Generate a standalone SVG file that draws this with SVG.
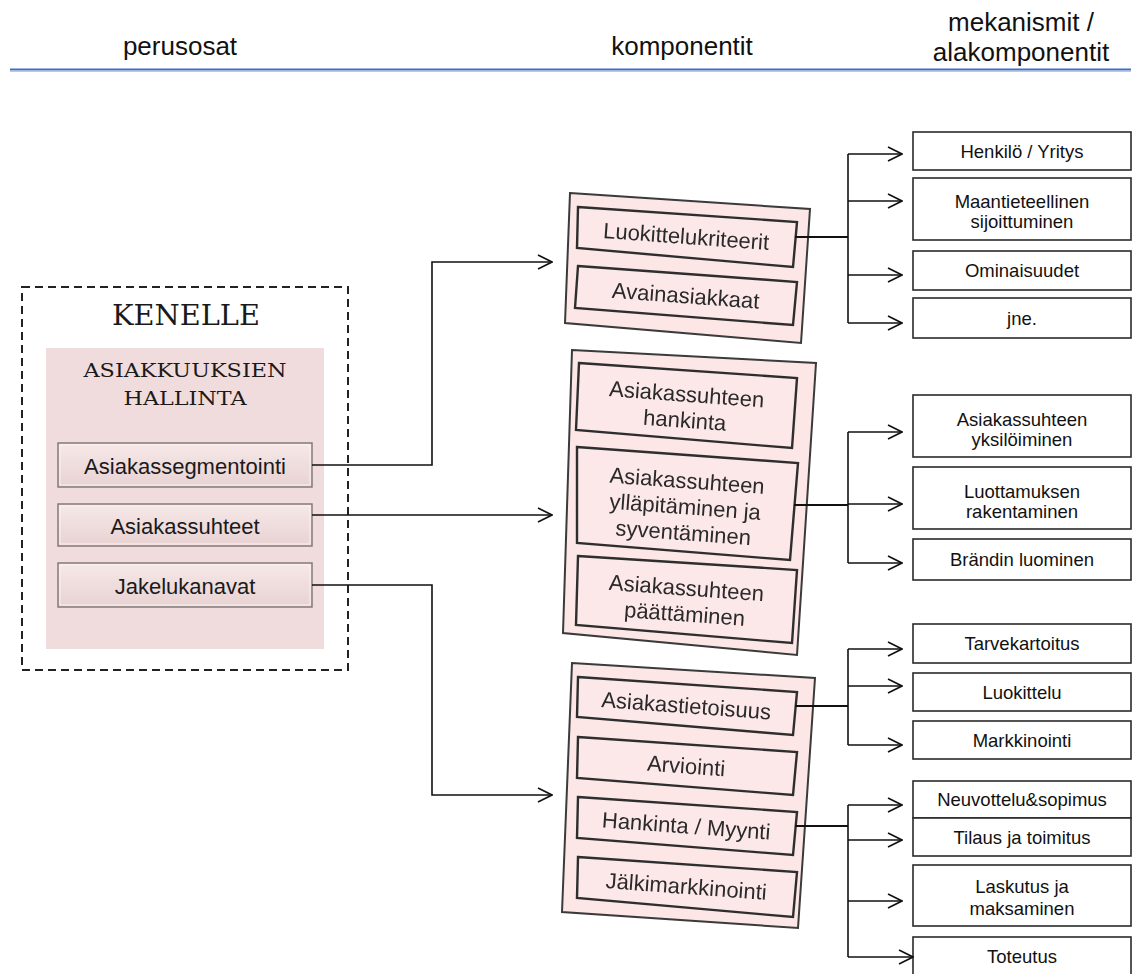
<svg xmlns="http://www.w3.org/2000/svg" width="1133" height="974" viewBox="0 0 1133 974">
  <style>
    .hdr { font-family: "Liberation Sans", Arial, sans-serif; font-size: 26px; fill: #111; text-anchor: middle; }
    .serif { font-family: "DejaVu Serif", "Liberation Serif", serif; fill: #1a1a1a; text-anchor: middle; }
    .btn { fill: url(#btnFill); stroke: #857a7a; stroke-width: 1.5; }
    .btnHi { fill: none; stroke: #fbf1f1; stroke-width: 1; }
    .btnTxt { font-family: "Liberation Sans", Arial, sans-serif; font-size: 22px; fill: #1a1a1a; text-anchor: middle; }
    .panel { fill: #fce6e6; stroke: #3a3a3a; stroke-width: 2; }
    .cell { fill: #fce8e8; stroke: #2e2e2e; stroke-width: 2.4; }
    .cellTxt { font-family: "Liberation Sans", Arial, sans-serif; font-size: 22px; fill: #2a2a2a; text-anchor: middle; }
    .box { fill: #fff; stroke: #2a2a2a; stroke-width: 1.6; }
    .boxTxt { font-family: "Liberation Sans", Arial, sans-serif; font-size: 18.5px; fill: #111; text-anchor: middle; }
    .wire { fill: none; stroke: #111; stroke-width: 1.6; }
    .wireMain { fill: none; stroke: #111; stroke-width: 2.2; }
    .arrow { fill: none; stroke: #111; stroke-width: 1.6; marker-end: url(#chevron); }
  </style>
  <defs>
    <marker id="chevron" viewBox="0 0 16 16" refX="15" refY="8" markerWidth="16" markerHeight="16" markerUnits="userSpaceOnUse" orient="auto">
      <path d="M1,1 L15,8 L1,15" fill="none" stroke="#111" stroke-width="1.6"/>
    </marker>
    <linearGradient id="btnFill" x1="0" y1="0" x2="0" y2="1">
      <stop offset="0" stop-color="#f7e8e8"/>
      <stop offset="1" stop-color="#e8d2d2"/>
    </linearGradient>
    <filter id="soft" x="-5%" y="-5%" width="110%" height="110%">
      <feGaussianBlur stdDeviation="0.5"/>
    </filter>
  </defs>

  <rect width="1133" height="974" fill="#fff"/>

  <!-- column headings -->
  <g id="header">
    <text class="hdr" x="180" y="55">perusosat</text>
    <text class="hdr" x="682" y="55">komponentit</text>
    <text class="hdr" x="1021" y="31">mekanismit /</text>
    <text class="hdr" x="1021" y="61">alakomponentit</text>
    <line x1="10" y1="69.5" x2="1131" y2="69.5" stroke="#3d6fc6" stroke-width="2"/>
    <line x1="10" y1="71.5" x2="1131" y2="71.5" stroke="#b4c9ec" stroke-width="1"/>
  </g>

  <!-- left block -->
  <g id="kenelle">
    <rect x="22" y="287" width="326" height="383" fill="none" stroke="#222" stroke-width="2" stroke-dasharray="8 5"/>
    <text class="serif" x="186" y="325" font-size="27" textLength="148" lengthAdjust="spacingAndGlyphs">KENELLE</text>
    <rect x="46" y="348" width="278" height="301" fill="#f0dcdc"/>
    <text class="serif" x="185" y="377" font-size="19" textLength="203" lengthAdjust="spacingAndGlyphs">ASIAKKUUKSIEN</text>
    <text class="serif" x="185" y="405" font-size="19" textLength="123" lengthAdjust="spacingAndGlyphs">HALLINTA</text>
  </g>
  <g id="asiakassegmentointi">
    <rect class="btn" x="58" y="443" width="254" height="44"/>
    <rect class="btnHi" x="60" y="445" width="250" height="40"/>
    <text class="btnTxt" x="185" y="474">Asiakassegmentointi</text>
  </g>
  <g id="asiakassuhteet">
    <rect class="btn" x="58" y="504" width="254" height="42"/>
    <rect class="btnHi" x="60" y="506" width="250" height="38"/>
    <text class="btnTxt" x="185" y="534">Asiakassuhteet</text>
  </g>
  <g id="jakelukanavat">
    <rect class="btn" x="58" y="563" width="254" height="44"/>
    <rect class="btnHi" x="60" y="565" width="250" height="40"/>
    <text class="btnTxt" x="185" y="594">Jakelukanavat</text>
  </g>

  <!-- tilted component panels -->
  <g id="panel-segmentointi" filter="url(#soft)">
    <polygon class="panel" points="570,193 810,209 801,343 565,323"/>
    <polygon class="cell" points="578,207 797,222 793,267 577,248"/>
    <polygon class="cell" points="578,266 797,282 793,325 575,308"/>
    <g transform="translate(686.25,236) rotate(4.2)"><text class="cellTxt" x="0" y="8">Luokittelukriteerit</text></g>
    <g transform="translate(685.75,295.25) rotate(4.2)"><text class="cellTxt" x="0" y="8">Avainasiakkaat</text></g>
  </g>

  <g id="panel-suhteet" filter="url(#soft)">
    <polygon class="panel" points="572,350 816,363 797,655 563,633"/>
    <polygon class="cell" points="579,363 797,378 792,448 576,430"/>
    <polygon class="cell" points="577,447 798,463 790,560 577,543"/>
    <polygon class="cell" points="578,556 797,570 792,643 576,625"/>
    <g transform="translate(686,404.75) rotate(4.2)">
      <text class="cellTxt" x="0" y="-3">Asiakassuhteen</text>
      <text class="cellTxt" x="0" y="23">hankinta</text>
    </g>
    <g transform="translate(685.5,503.25) rotate(4.2)">
      <text class="cellTxt" x="0" y="-15">Asiakassuhteen</text>
      <text class="cellTxt" x="0" y="11">ylläpitäminen ja</text>
      <text class="cellTxt" x="0" y="37">syventäminen</text>
    </g>
    <g transform="translate(685.75,598.5) rotate(4.2)">
      <text class="cellTxt" x="0" y="-3">Asiakassuhteen</text>
      <text class="cellTxt" x="0" y="23">päättäminen</text>
    </g>
  </g>

  <g id="panel-kanavat" filter="url(#soft)">
    <polygon class="panel" points="572,663 815,678 798,928 562,912"/>
    <polygon class="cell" points="578,677 797,692 793,735 577,717"/>
    <polygon class="cell" points="578,737 797,752 793,795 577,778"/>
    <polygon class="cell" points="578,797 797,812 793,855 577,838"/>
    <polygon class="cell" points="578,857 797,872 793,917 577,898"/>
    <g transform="translate(686.25,705.25) rotate(4.2)"><text class="cellTxt" x="0" y="8">Asiakastietoisuus</text></g>
    <g transform="translate(686.25,765.5) rotate(4.2)"><text class="cellTxt" x="0" y="8">Arviointi</text></g>
    <g transform="translate(686.25,825.5) rotate(4.2)"><text class="cellTxt" x="0" y="8">Hankinta / Myynti</text></g>
    <g transform="translate(686.25,886) rotate(4.2)"><text class="cellTxt" x="0" y="8">Jälkimarkkinointi</text></g>
  </g>

  <!-- mechanism boxes -->
  <g id="henkilo-yritys"><rect class="box" x="913" y="132" width="218" height="38"/><text class="boxTxt" x="1022" y="157.5">Henkilö / Yritys</text></g>
  <g id="maantieteellinen"><rect class="box" x="913" y="178" width="218" height="62"/><text class="boxTxt" x="1022" y="208">Maantieteellinen</text><text class="boxTxt" x="1022" y="228">sijoittuminen</text></g>
  <g id="ominaisuudet"><rect class="box" x="913" y="251" width="218" height="39"/><text class="boxTxt" x="1022" y="277">Ominaisuudet</text></g>
  <g id="jne"><rect class="box" x="913" y="298" width="218" height="40"/><text class="boxTxt" x="1022" y="324.5">jne.</text></g>

  <g id="yksiloiminen"><rect class="box" x="913" y="395" width="218" height="62"/><text class="boxTxt" x="1022" y="426">Asiakassuhteen</text><text class="boxTxt" x="1022" y="446">yksilöiminen</text></g>
  <g id="luottamus"><rect class="box" x="913" y="467" width="218" height="62"/><text class="boxTxt" x="1022" y="498">Luottamuksen</text><text class="boxTxt" x="1022" y="518">rakentaminen</text></g>
  <g id="brandi"><rect class="box" x="913" y="539" width="218" height="41"/><text class="boxTxt" x="1022" y="566">Brändin luominen</text></g>

  <g id="tarvekartoitus"><rect class="box" x="913" y="624" width="218" height="39"/><text class="boxTxt" x="1022" y="650">Tarvekartoitus</text></g>
  <g id="luokittelu"><rect class="box" x="913" y="673" width="218" height="38"/><text class="boxTxt" x="1022" y="698.5">Luokittelu</text></g>
  <g id="markkinointi"><rect class="box" x="913" y="721" width="218" height="38"/><text class="boxTxt" x="1022" y="746.5">Markkinointi</text></g>

  <g id="neuvottelu"><rect class="box" x="913" y="781" width="218" height="37"/><text class="boxTxt" x="1022" y="806">Neuvottelu&amp;sopimus</text></g>
  <g id="tilaus"><rect class="box" x="913" y="818" width="218" height="38"/><text class="boxTxt" x="1022" y="843.5">Tilaus ja toimitus</text></g>
  <g id="laskutus"><rect class="box" x="913" y="865" width="218" height="61"/><text class="boxTxt" x="1022" y="893">Laskutus ja</text><text class="boxTxt" x="1022" y="915">maksaminen</text></g>
  <g id="toteutus"><rect class="box" x="913" y="937" width="218" height="50"/><text class="boxTxt" x="1022" y="963">Toteutus</text></g>

  <!-- connectors -->
  <g id="connectors">
    <path class="arrow" d="M312,465 H432 V262 H552"/>
    <path class="arrow" d="M312,515 H552"/>
    <path class="arrow" d="M312,585 H432 V795 H552"/>

    <path class="wireMain" d="M795,237 H848"/>
    <path class="wire" d="M848,154 V323"/>
    <path class="arrow" d="M848,154 H902"/>
    <path class="arrow" d="M848,201 H902"/>
    <path class="arrow" d="M848,275 H902"/>
    <path class="arrow" d="M848,323 H902"/>

    <path class="wireMain" d="M794,505 H848"/>
    <path class="wire" d="M848,432 V563"/>
    <path class="arrow" d="M848,432 H902"/>
    <path class="arrow" d="M848,504 H902"/>
    <path class="arrow" d="M848,563 H902"/>

    <path class="wireMain" d="M795,706 H848"/>
    <path class="wire" d="M848,649 V745"/>
    <path class="arrow" d="M848,649 H902"/>
    <path class="arrow" d="M848,686 H902"/>
    <path class="arrow" d="M848,745 H902"/>

    <path class="wireMain" d="M795,826 H848"/>
    <path class="wire" d="M848,805 V957"/>
    <path class="arrow" d="M848,805 H902"/>
    <path class="arrow" d="M848,840 H902"/>
    <path class="arrow" d="M848,901 H902"/>
    <path class="arrow" d="M848,957 H913"/>
  </g>
</svg>
